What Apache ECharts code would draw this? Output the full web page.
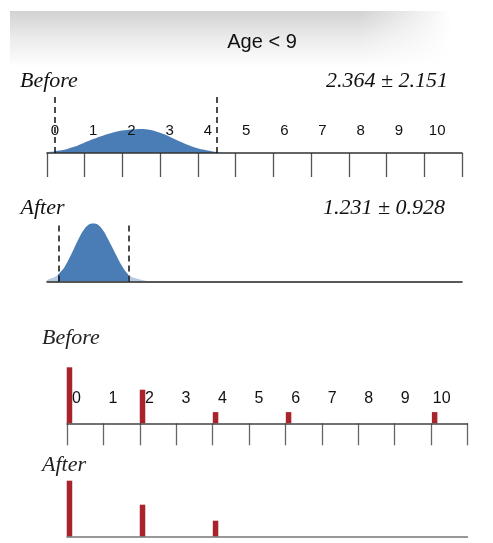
<!DOCTYPE html>
<html>
<head>
<meta charset="utf-8">
<script src="https://cdn.jsdelivr.net/npm/echarts@6/dist/echarts.min.js"></script>
<style>html,body{margin:0;padding:0;background:#fff}#c{width:493px;height:543px}</style>
</head>
<body>
<div id="c"></div>
<script>
// ---- data ----
const titleText = 'Age < 9';
const tickLabels = [0, 1, 2, 3, 4, 5, 6, 7, 8, 9, 10];
const rulerCells = ['', '', '', '', '', '', '', '', '', '', ''];

const beforeDensX = [-0.25, 0, 0.25, 0.5, 0.75, 1.0, 1.25, 1.5, 1.75, 2.0, 2.25, 2.5, 2.75, 3.0, 3.25, 3.5, 3.75, 4.0, 4.25, 4.5, 4.75];
const beforeDensY = [0.01, 0.035, 0.06, 0.11, 0.18, 0.25, 0.31, 0.36, 0.40, 0.42, 0.43, 0.41, 0.36, 0.29, 0.21, 0.14, 0.08, 0.045, 0.015, 0.005, 0];
const beforeBand = [0, 4.24];
const beforeStat = '2.364 ± 2.151';

const afterDensX = [-0.25, 0, 0.125, 0.25, 0.375, 0.5, 0.625, 0.75, 0.875, 1.0, 1.125, 1.25, 1.375, 1.5, 1.625, 1.75, 1.875, 2.0, 2.25, 2.5];
const afterDensY = [0.02, 0.08, 0.15, 0.25, 0.40, 0.57, 0.74, 0.88, 0.97, 0.99, 0.97, 0.88, 0.74, 0.58, 0.42, 0.27, 0.15, 0.08, 0.03, 0];
const afterBand = [0.09, 1.92];
const afterStat = '1.231 ± 0.928';

const beforeValues = [0, 2, 4, 6, 10];
const beforeCounts = [5, 3, 1, 1, 1];
const afterValues = [0, 2, 4];
const afterCounts = [7, 4, 2];

const beforeLabel = 'Before';
const afterLabel = 'After';

// ---- build ----
const zip = (a, b) => a.map((v, i) => [v, b[i]]);
const dark = '#4a7db5', light = '#b3cae3', red = '#a8232b';
const serif = "italic 22px 'Liberation Serif', 'DejaVu Serif', serif";

const chart = echarts.init(document.getElementById('c'), null, { renderer: 'canvas' });

const densAxis = { min: -0.21, max: 10.65 };
const barAxis = { min: -0.068, max: 10.9 };

const option = {
  animation: false,
  backgroundColor: '#fff',
  grid: [
    { left: 47, right: 31, top: 97, height: 56 },
    { left: 47, right: 31, top: 223, height: 58.5 },
    { left: 67, right: 25.5, top: 367.3, height: 56 },
    { left: 67, right: 25.5, top: 480.7, height: 56 }
  ],
  xAxis: [
    { type: 'value', gridIndex: 0, min: densAxis.min, max: densAxis.max, z: 5,
      axisLine: { show: true, lineStyle: { color: '#333', width: 1.5 } },
      axisTick: { show: false }, splitLine: { show: false },
      axisLabel: { inside: true, margin: 15, customValues: tickLabels, fontSize: 15,
        color: '#111', fontFamily: "'Liberation Sans', Arial, sans-serif", formatter: v => String(v) } },
    { type: 'category', gridIndex: 0, data: rulerCells, boundaryGap: true, position: 'bottom',
      axisLine: { show: false },
      axisTick: { show: true, interval: 0, length: 24, lineStyle: { color: '#555', width: 1.3 } },
      axisLabel: { show: false }, splitLine: { show: false } },
    { type: 'value', gridIndex: 1, min: densAxis.min, max: densAxis.max, z: 5,
      axisLine: { show: true, lineStyle: { color: '#222', width: 1.5 } },
      axisTick: { show: false }, axisLabel: { show: false }, splitLine: { show: false } },
    { type: 'value', gridIndex: 2, min: barAxis.min, max: barAxis.max, z: 5,
      axisLine: { show: true, lineStyle: { color: '#444', width: 1.5 } },
      axisTick: { show: false }, splitLine: { show: false },
      axisLabel: { inside: true, margin: 17, customValues: tickLabels, fontSize: 16, padding: [0, 0, 0, 14],
        color: '#111', fontFamily: "'Liberation Sans', Arial, sans-serif", formatter: v => String(v) } },
    { type: 'category', gridIndex: 2, data: rulerCells, boundaryGap: true, position: 'bottom',
      axisLine: { show: false },
      axisTick: { show: true, interval: 0, length: 22, lineStyle: { color: '#666', width: 1.3 } },
      axisLabel: { show: false }, splitLine: { show: false } },
    { type: 'value', gridIndex: 3, min: barAxis.min, max: barAxis.max, z: 5,
      axisLine: { show: true, lineStyle: { color: '#777', width: 1.5 } },
      axisTick: { show: false }, axisLabel: { show: false }, splitLine: { show: false } }
  ],
  yAxis: [
    { type: 'value', gridIndex: 0, min: 0, max: 1, show: false },
    { type: 'value', gridIndex: 1, min: 0, max: 1, show: false },
    { type: 'value', gridIndex: 2, min: 0, max: Math.max(...beforeCounts), show: false },
    { type: 'value', gridIndex: 3, min: 0, max: Math.max(...afterCounts), show: false }
  ],
  visualMap: [
    { type: 'piecewise', show: false, seriesIndex: 0, dimension: 0,
      pieces: [{ lt: beforeBand[0], color: light }, { gte: beforeBand[0], lte: beforeBand[1], color: dark }, { gt: beforeBand[1], color: light }] },
    { type: 'piecewise', show: false, seriesIndex: 1, dimension: 0,
      pieces: [{ lt: afterBand[0], color: light }, { gte: afterBand[0], lte: afterBand[1], color: dark }, { gt: afterBand[1], color: light }] }
  ],
  series: [
    { type: 'line', xAxisIndex: 0, yAxisIndex: 0, data: zip(beforeDensX, beforeDensY), smooth: 0.4,
      showSymbol: false, lineStyle: { width: 0 }, areaStyle: { opacity: 1 }, z: 2,
      markLine: { symbol: 'none', silent: true, label: { show: false }, z: 6,
        lineStyle: { type: [6, 4], color: '#111', width: 1.5 },
        data: [{ xAxis: beforeBand[0] }, { xAxis: beforeBand[1] }] } },
    { type: 'line', xAxisIndex: 2, yAxisIndex: 1, data: zip(afterDensX, afterDensY), smooth: 0.4,
      showSymbol: false, lineStyle: { width: 0 }, areaStyle: { opacity: 1 }, z: 2,
      markLine: { symbol: 'none', silent: true, label: { show: false }, z: 6,
        lineStyle: { type: [6, 4], color: '#111', width: 1.5 },
        data: [{ xAxis: afterBand[0] }, { xAxis: afterBand[1] }] } },
    { type: 'bar', xAxisIndex: 3, yAxisIndex: 2, data: zip(beforeValues, beforeCounts), barWidth: 5.5,
      itemStyle: { color: red }, z: 3 },
    { type: 'bar', xAxisIndex: 5, yAxisIndex: 3, data: zip(afterValues, afterCounts), barWidth: 5.5,
      itemStyle: { color: red }, z: 3 }
  ],
  graphic: [
    { type: 'rect', z: -10, shape: { x: 10, y: 11, width: 440, height: 56 },
      style: { fill: new echarts.graphic.LinearGradient(0, 0, 0, 1, [
        { offset: 0, color: '#d2d2d2' }, { offset: 0.5, color: '#ececec' }, { offset: 1, color: '#ffffff' }]) } },
    { type: 'rect', z: -9, shape: { x: 360, y: 11, width: 92, height: 56 },
      style: { fill: new echarts.graphic.LinearGradient(0, 0, 1, 0, [
        { offset: 0, color: 'rgba(255,255,255,0)' }, { offset: 1, color: '#ffffff' }]) } },
    { type: 'text', x: 262, y: 42, z: 10,
      style: { text: titleText, font: "20px 'Liberation Sans', Arial, sans-serif", fill: '#111', align: 'center', verticalAlign: 'middle' } },
    { type: 'text', x: 20, y: 81, z: 10,
      style: { text: beforeLabel, font: serif, fill: '#111', align: 'left', verticalAlign: 'middle' } },
    { type: 'text', x: 448, y: 81, z: 10,
      style: { text: beforeStat, font: serif, fill: '#111', align: 'right', verticalAlign: 'middle' } },
    { type: 'text', x: 20.5, y: 208, z: 10,
      style: { text: afterLabel, font: serif, fill: '#111', align: 'left', verticalAlign: 'middle' } },
    { type: 'text', x: 445, y: 208, z: 10,
      style: { text: afterStat, font: serif, fill: '#111', align: 'right', verticalAlign: 'middle' } },
    { type: 'text', x: 42, y: 338, z: 10,
      style: { text: beforeLabel, font: serif, fill: '#222', align: 'left', verticalAlign: 'middle' } },
    { type: 'text', x: 42, y: 465, z: 10,
      style: { text: afterLabel, font: serif, fill: '#222', align: 'left', verticalAlign: 'middle' } }
  ]
};
chart.setOption(option);
</script>
</body>
</html>
